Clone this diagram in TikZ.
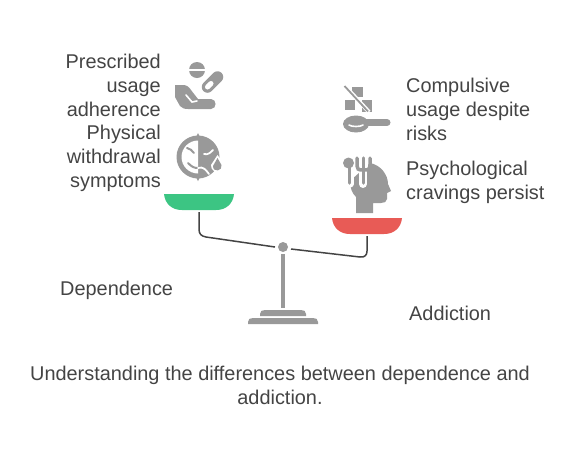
\documentclass[tikz,border=0pt]{standalone}
\usepackage{fontspec}
\setmainfont{Liberation Sans}
\usetikzlibrary{calc}
\definecolor{icongray}{HTML}{999999}
\definecolor{textgray}{HTML}{444444}
\definecolor{beamgray}{HTML}{444444}
\definecolor{pangreen}{HTML}{3CC583}
\definecolor{panred}{HTML}{E85B56}

\begin{document}
\begin{tikzpicture}[x=1pt, y=-1pt,
  lefttext/.style={anchor=east, align=right, text=textgray, inner sep=0pt, font=\fontsize{19.9}{24}\selectfont},
  righttext/.style={anchor=west, align=left, text=textgray, inner sep=0pt, font=\fontsize{19.9}{24}\selectfont},
  midtext/.style={align=center, text=textgray, inner sep=0pt, font=\fontsize{19.9}{24}\selectfont},
  icon/.style={fill=icongray, draw=none},
  gapline/.style={draw=white, line width=1.6pt, line cap=round},
  beam/.style={draw=beamgray, line width=1.5pt}]
  \useasboundingbox (0,0) rectangle (572,459);
  \coordinate (LA) at (199,212);
  \coordinate (LB) at (275,247);
  \coordinate (RA) at (367,236);
  \coordinate (RB) at (291,249);
  % texts
  \node[lefttext] (prescribed) at (161,85) {Prescribed\\usage\\adherence};
  \node[lefttext] (physical) at (161,158.5) {Physical\\withdrawal\\symptoms};
  \node[righttext] (compulsive) at (406,109) {Compulsive\\usage despite\\risks};
  \node[righttext] (cravings) at (406,182.5) {Psychological\\cravings persist};
  \node[righttext] (dependence) at (60,290.5) {Dependence};
  \node[righttext] (addiction) at (409,313) {Addiction};
  \node[midtext] (caption) at (280,385) {Understanding the differences between dependence and\\addiction.};
  % pans
  \fill[pangreen] (164,194) -- (234,194) .. controls (233,204) and (226,210) .. (216,210)
    -- (182,210) .. controls (172,210) and (165,204) .. (164,194) -- cycle;
  \fill[panred] (332,218) -- (402,218) .. controls (401,228) and (394,234) .. (384,234)
    -- (350,234) .. controls (340,234) and (333,228) .. (332,218) -- cycle;
  % beam
  \node[circle, fill=icongray, minimum size=10pt, inner sep=0pt] (pivot) at (283,247) {};
  \draw[beam] (LA) -- (199,229) .. controls (199,234) and (201,236) .. (206,237) -- (LB);
  \draw[beam] (RB) -- (360,257) .. controls (365,257.5) and (367,255) .. (367,251) -- (RA);
  % stand
  \draw[icongray, line width=3.6pt] (283,254) -- (283,308);
  \fill[icon] (260,316) -- (260,314) .. controls (260,311) and (262,310) .. (265,310)
    -- (301,310) .. controls (304,310) and (306,311) .. (306,314) -- (306,316) -- cycle;
  \fill[icon] (248,324) -- (248,322) .. controls (248,319) and (250,318) .. (253,318)
    -- (313,318) .. controls (316,318) and (318,319) .. (318,322) -- (318,324) -- cycle;
  % pill and hand
  \fill[icon] (197,70) circle (8);
  \draw[white, line width=1.6pt] (187,70) -- (207,70);
  \draw[icongray, line width=11.5pt, line cap=round] (207.5,87) -- (217.5,77);
  \draw[white, line width=5pt, line cap=round] (207.5,87) -- (211,83.5);
  \fill[icon] (175,85) -- (183,85) .. controls (187,85) and (189,87) .. (191,90) -- (198,99)
    -- (211,99) .. controls (217,99) and (217,109) .. (211,109) -- (188,109)
    .. controls (184,109) and (182,108) .. (180,106) -- (175,97) -- cycle;
  \draw[gapline] (186,95) -- (192,102) -- (197,101);
  % face
  \fill[icon] (198,157) circle (21.5);
  \fill[icon] (198,133) -- (200,137) -- (196,137) -- cycle;
  \fill[icon] (198,181) -- (200,177) -- (196,177) -- cycle;
  \fill[white] (198,173.5) arc (90:270:16.5) -- cycle;
  \draw[icongray, line width=2pt, line cap=round] (187,148) .. controls (190,149) and (192,150) .. (194,153);
  \draw[icongray, line width=2pt, line cap=round] (188,163) .. controls (192,167) and (194,168) .. (198,168);
  \draw[white, line width=1.8pt, line cap=round] (204,154) .. controls (208,155) and (210,153) .. (213,150);
  \draw[white, line width=1.8pt, line cap=round] (198,168) .. controls (203,166) and (206,170) .. (209,174);
  \fill[white] (217.5,155) -- (224,164) .. controls (227,172) and (211,176) .. (211,165) -- cycle;
  \fill[icon] (217.5,158) -- (221.5,165) .. controls (223,171) and (213,173) .. (213,166) -- cycle;
  % squares and spoon
  \fill[icon] (352,87) rectangle (363,97);
  \fill[icon] (345,100) rectangle (355,110);
  \fill[icon] (362,100) rectangle (372,112);
  \draw[white, line width=4pt] (344,85) -- (369,112);
  \draw[icongray, line width=1.8pt] (344.5,86) -- (368,111.5);
  \fill[icon] (356,124) ellipse (13 and 8.5);
  \draw[icongray, line width=7pt, line cap=round] (366,122.5) -- (387,122.5);
  \draw[gapline] (349,125) .. controls (352,127) and (360,127) .. (363,125);
  % spoon, fork and head
  \fill[icon] (370,163) .. controls (381,165) and (388,175) .. (388,184)
    -- (391,191) -- (387,193) -- (387,199) .. controls (387,202) and (384,203) .. (381,203)
    -- (373,203) -- (373,213) -- (356,213) -- (356,197) .. controls (352,193) and (350,188) .. (350,181) -- cycle;
  \draw[white, line width=8pt, line cap=round] (363,170) -- (363,184);
  \draw[white, line width=9pt] (363,171) -- (363,160);
  \draw[white, line width=7pt, line cap=round] (350,165) -- (350,184);
  \fill[icon] (348.5,163) circle (5.5);
  \draw[icongray, line width=3.5pt, line cap=round] (349.5,166) -- (349.5,183);
  \draw[icongray, line width=3.5pt, line cap=round] (357,158) -- (357,166) .. controls (357,169) and (358,170) .. (363.5,170)
    .. controls (369,170) and (370,169) .. (370,166) -- (370,158);
  \draw[icongray, line width=3.5pt, line cap=round] (363.5,158) -- (363.5,183);
\end{tikzpicture}
\end{document}
